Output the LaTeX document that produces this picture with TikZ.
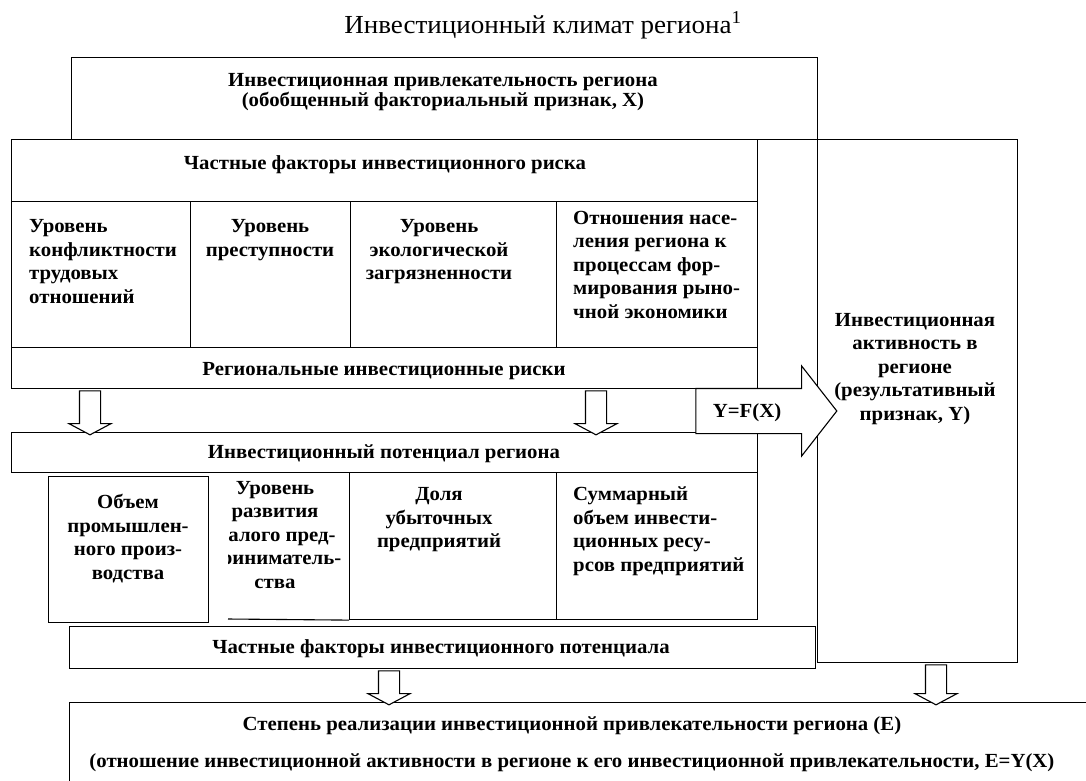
\documentclass[tikz,border=0pt]{standalone}
\usepackage{fontspec}
\setmainfont[FakeStretch=1.04]{Liberation Serif}
\usetikzlibrary{shapes.arrows}

\begin{document}
\begin{tikzpicture}[x=1pt,y=-1pt,
    box/.style={draw,line width=1.1pt,inner sep=0pt,anchor=north west},
    lbl/.style={inner sep=0pt,anchor=base,font=\bfseries\fontsize{20}{23.6}\selectfont},
    downarr/.style={single arrow,draw,line width=1.1pt,fill=white,rotate=-90,inner xsep=0pt,inner ysep=10pt,
        single arrow head extend=10.5pt,single arrow tip angle=124}]
  \path[use as bounding box,clip] (0,0) rectangle (1086,780);
  % title
  \node[anchor=base,inner sep=0pt,font=\fontsize{26}{28}\selectfont] (title) at (543,33) {Инвестиционный климат региона\textsuperscript{1}};
  % X
  \node[box,minimum width=746,minimum height=82] (attr) at (71,57) {};
  \node[lbl,align=center,font=\bfseries\fontsize{20}{20}\selectfont] (attrtxt) at (443,106)
    {Инвестиционная привлекательность региона\\(обобщенный факториальный признак, X)};
  % Y
  \node[box,minimum width=200,minimum height=523] (act) at (817,139) {};
  \node[lbl,align=center] (acttxt) at (915,420.4)
    {Инвестиционная\\активность в\\регионе\\(результативный\\признак, Y)};
  % risks
  \node[box,minimum width=746,minimum height=62] (riskhead) at (11,139) {};
  \node[lbl] (riskheadtxt) at (385,169) {Частные факторы инвестиционного риска};
  \node[box,minimum width=179,minimum height=146] (c1) at (11,201) {};
  \node[box,minimum width=160,minimum height=146] (c2) at (190,201) {};
  \node[box,minimum width=206,minimum height=146] (c3) at (350,201) {};
  \node[box,minimum width=201,minimum height=146] (c4) at (556,201) {};
  \node[lbl,align=left,anchor=base west] (c1t) at (29,303.3) {Уровень\\конфликтности\\трудовых\\отношений};
  \node[lbl,align=center] (c2t) at (270,256.1) {Уровень\\преступности};
  \node[lbl,align=center] (c3t) at (439,279.7) {Уровень\\экологической\\загрязненности};
  \node[lbl,align=left,anchor=base west] (c4t) at (573,318.4)
    {Отношения насе-\\ления региона к\\процессам фор-\\мирования рыно-\\чной экономики};
  \node[box,minimum width=746,minimum height=41] (reg) at (11,347) {};
  \node[lbl] (regtxt) at (384,375.7) {Региональные инвестиционные риски};
  % potential
  \node[box,minimum width=746,minimum height=40] (pot) at (11,432) {};
  \node[lbl] (pottxt) at (384,458) {Инвестиционный потенциал региона};
  \node[box,minimum width=160,minimum height=146] (c5) at (48,476) {};
  \node[box,minimum width=207,minimum height=147] (c7) at (349,472) {};
  \node[box,minimum width=201,minimum height=147] (c8) at (556,472) {};
  \draw[line width=1.1pt] (228,619) -- (c7.south west);
  \node[lbl,align=center] (c5t) at (128,579.3) {Объем\\промышлен-\\ного произ-\\водства};
  \begin{scope}
    \clip (228,472) rectangle (349,619);
    \node[lbl,align=center] (c6t) at (275,588.4) {Уровень\\развития\\малого пред-\\приниматель-\\ства};
  \end{scope}
  \node[lbl,align=center] (c7t) at (439,547.7) {Доля\\убыточных\\предприятий};
  \node[lbl,align=left,anchor=base west] (c8t) at (573,571.3)
    {Суммарный\\объем инвести-\\ционных ресу-\\рсов предприятий};
  \node[box,minimum width=746,minimum height=42] (fac) at (69,626) {};
  \node[lbl] (factxt) at (441,653) {Частные факторы инвестиционного потенциала};
  % E
  \node[box,minimum width=1060,minimum height=100] (deg) at (69,702) {};
  \node[lbl] (degtxt) at (572,730.5) {Степень реализации инвестиционной привлекательности региона (E)};
  \node[lbl] (degtxt2) at (572,767.5) {(отношение инвестиционной активности в регионе к его инвестиционной привлекательности, E=Y(X)};
  % arrows
  \node[downarr,minimum height=44] (d1) at (90,410) {};
  \node[downarr,minimum height=44] (d2) at (596,410) {};
  \node[downarr,minimum height=34] (d3) at (389,685) {};
  \node[downarr,minimum height=40] (d4) at (936,682) {};
  \node[single arrow,draw,line width=1.1pt,fill=white,inner xsep=0pt,inner ysep=22pt,minimum height=141,
    single arrow head extend=22.5pt,single arrow tip angle=104] (big) at (757.5,411) {};
  \node[lbl] (yfx) at (747,417) {Y=F(X)};
\end{tikzpicture}
\end{document}
